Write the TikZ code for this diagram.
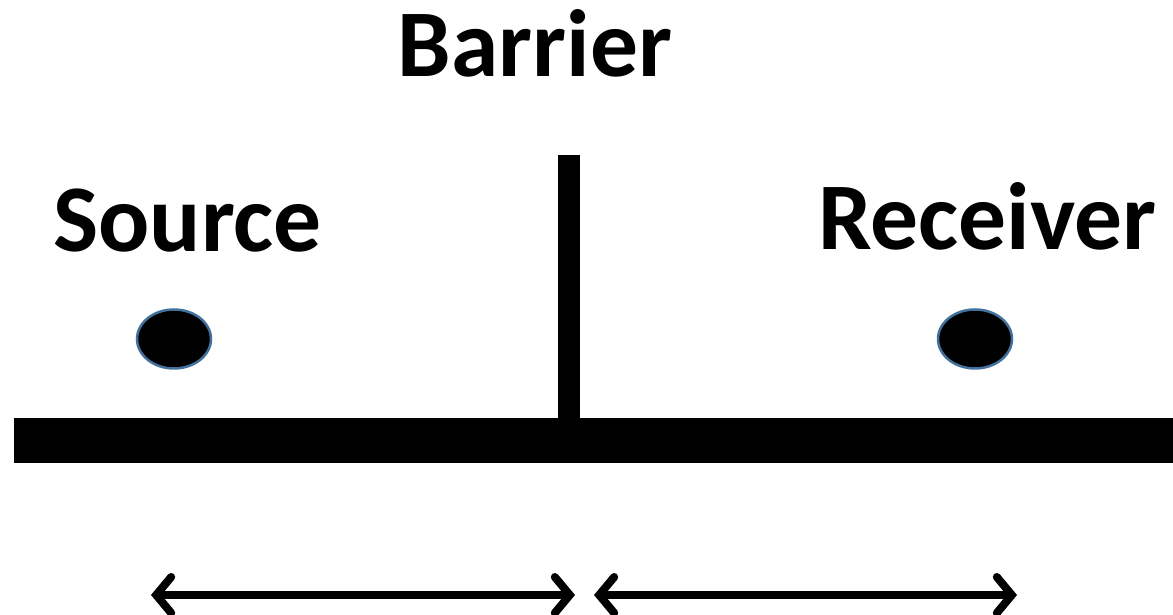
\documentclass[tikz,border=0pt]{standalone}
\usepackage{fontspec}
\setmainfont{Carlito}
\usetikzlibrary{arrows.meta,shapes.geometric}
\definecolor{dotedge}{HTML}{41719C}
\tikzset{
  lbl/.style={font=\bfseries\fontsize{95.5}{100}\selectfont, inner sep=0pt, anchor=base west},
  dot/.style={ellipse, fill=black, draw=dotedge, line width=2.5pt, minimum width=74pt, minimum height=59pt, inner sep=0pt},
  solid bar/.style={fill=black, draw=none},
  dimtip/.tip={Straight Barb[length=15pt,width=36pt,line width=8pt,line cap=round]},
  dimarrow/.style={line width=8pt, dimtip-dimtip}
}
\begin{document}
\begin{tikzpicture}[x=1pt,y=1pt]
\useasboundingbox (0,0) rectangle (1173,615);
% ground and barrier
\path[solid bar] (14,152) rectangle (1173,197);
\path[solid bar] (558,197) rectangle (580,460);
% labels
\node[lbl, anchor=base] (barrier) at (535,538) {Barrier};
\node[lbl] (source) at (53,363) {Source};
\node[lbl] (receiver) at (818,365) {Receiver};
% dots
\node[dot] (src) at (174,276) {};
\node[dot] (rcv) at (975,276) {};
% dimension arrows
\coordinate (a1) at (151,20);
\coordinate (a2) at (575,20);
\coordinate (b1) at (594,20);
\coordinate (b2) at (1017,20);
\draw[dimarrow] (a1) -- (a2);
\draw[dimarrow] (b1) -- (b2);
\end{tikzpicture}
\end{document}
